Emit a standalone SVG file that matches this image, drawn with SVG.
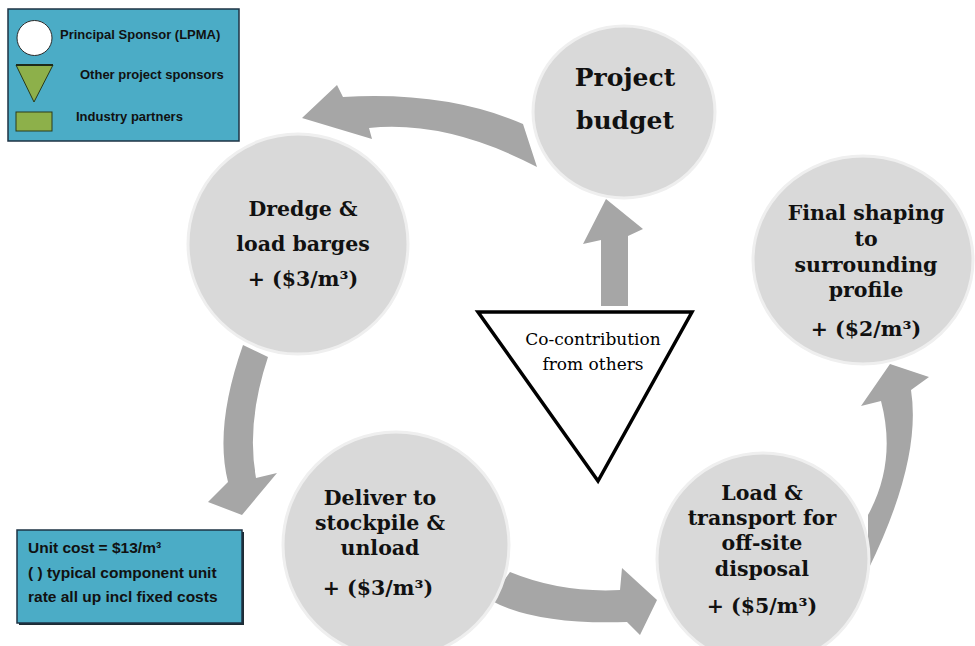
<svg xmlns="http://www.w3.org/2000/svg" width="975" height="646" viewBox="0 0 975 646">
<style>
.node{fill:#D9D9D9;stroke:#EFEFEF;stroke-width:3}
.lbl{font-family:"DejaVu Serif","Liberation Serif",serif;font-weight:bold;font-size:20.5px;fill:#111;text-anchor:middle}
.arrow{fill:#A6A6A6}
.box{fill:#4BACC6;stroke:#1E3344;stroke-width:1.5}
.shadow{fill:#1E2B33}
.leg{font-family:"Liberation Sans",Arial,sans-serif;font-weight:bold;font-size:13px;fill:#111}
.note{font-family:"Liberation Sans",Arial,sans-serif;font-weight:bold;font-size:15.5px;fill:#111}
.co{font-family:"DejaVu Serif","Liberation Serif",serif;font-size:17px;fill:#000;text-anchor:middle}
</style>
<rect width="975" height="646" fill="#FFFFFF"/>

<g id="connectors">
  <!-- Project budget -> Dredge -->
  <path class="arrow" d="M302,118 L337,85 L343,97 Q447,91 523,124 L537,167 Q447,120 369,128 L372,139 Z"/>
  <!-- Dredge -> Deliver -->
  <path class="arrow" d="M243,345 Q214,427 228,482 L208,502 L242,515 L277,473 L256,478 Q246,423 268,357 Z"/>
  <!-- Deliver -> Load -->
  <path class="arrow" d="M510,572 Q561,593 620,590 L622,568 L657,600 L640,635 L627,622 Q535,625 490,600 Z"/>
  <!-- Load -> Final shaping -->
  <path class="arrow" d="M868,570 Q922,460 911,390 L929,377 L890,364 L861,406 L881,401 Q897,462 868,515 Z"/>
  <!-- Co-contribution -> Project budget -->
  <path class="arrow" d="M601,306 L601,240 L583,244 L606,199 L643,229 L628,236 L628,306 Z"/>
</g>

<g id="legend">
  <rect class="box" x="8" y="9" width="231" height="132"/>
  <circle cx="34.5" cy="38" r="17.5" fill="#FFFFFF" stroke="#2A2A2A" stroke-width="1"/>
  <polygon points="16,65 53,65 34,102" fill="#8DB04A" stroke="#2A3A1A" stroke-width="1"/>
  <line x1="16" y1="65" x2="53" y2="65" stroke="#1E2B1A" stroke-width="2"/>
  <rect x="16" y="112" width="36" height="19" fill="#8DB04A" stroke="#2A3A1A" stroke-width="1"/>
  <text class="leg" x="60" y="39">Principal  Sponsor (LPMA)</text>
  <text class="leg" x="80" y="79">Other project sponsors</text>
  <text class="leg" x="76" y="121">Industry partners</text>
</g>

<g id="note">
  <rect class="shadow" x="19" y="532" width="225" height="93"/>
  <rect class="box" x="17" y="530" width="225" height="93"/>
  <text class="note" x="28" y="553">Unit cost = $13/m³</text>
  <text class="note" x="28" y="578">( ) typical component unit</text>
  <text class="note" x="28" y="602">rate all up incl fixed costs</text>
</g>

<g id="project-budget">
  <ellipse class="node" cx="624" cy="112" rx="91" ry="86"/>
  <text class="lbl" x="625" y="86" style="font-size:25px">Project</text>
  <text class="lbl" x="625" y="129" style="font-size:25px">budget</text>
</g>

<g id="dredge">
  <circle class="node" cx="298" cy="244" r="110"/>
  <text class="lbl" x="303" y="216">Dredge &amp;</text>
  <text class="lbl" x="303" y="251">load barges</text>
  <text class="lbl" x="303" y="286">+ ($3/m³)</text>
</g>

<g id="deliver">
  <circle class="node" cx="396" cy="545" r="113"/>
  <text class="lbl" x="380" y="505">Deliver to</text>
  <text class="lbl" x="380" y="530">stockpile &amp;</text>
  <text class="lbl" x="380" y="555">unload</text>
  <text class="lbl" x="378" y="595">+ ($3/m³)</text>
</g>

<g id="load-transport">
  <circle class="node" cx="763" cy="559" r="106"/>
  <text class="lbl" x="762" y="500">Load &amp;</text>
  <text class="lbl" x="762" y="525">transport for</text>
  <text class="lbl" x="762" y="550">off-site</text>
  <text class="lbl" x="762" y="576">disposal</text>
  <text class="lbl" x="762" y="613">+ ($5/m³)</text>
</g>

<g id="final-shaping">
  <ellipse class="node" cx="863" cy="260" rx="110" ry="104"/>
  <text class="lbl" x="866" y="220">Final shaping</text>
  <text class="lbl" x="866" y="246">to</text>
  <text class="lbl" x="866" y="272">surrounding</text>
  <text class="lbl" x="866" y="297">profile</text>
  <text class="lbl" x="866" y="336">+ ($2/m³)</text>
</g>

<g id="co-contribution">
  <polygon points="478,312 692,312 598,481" fill="#FFFFFF" stroke="#000000" stroke-width="3.5" stroke-linejoin="miter"/>
  <text class="co" x="593" y="345">Co-contribution</text>
  <text class="co" x="593" y="370">from others</text>
</g>
</svg>
